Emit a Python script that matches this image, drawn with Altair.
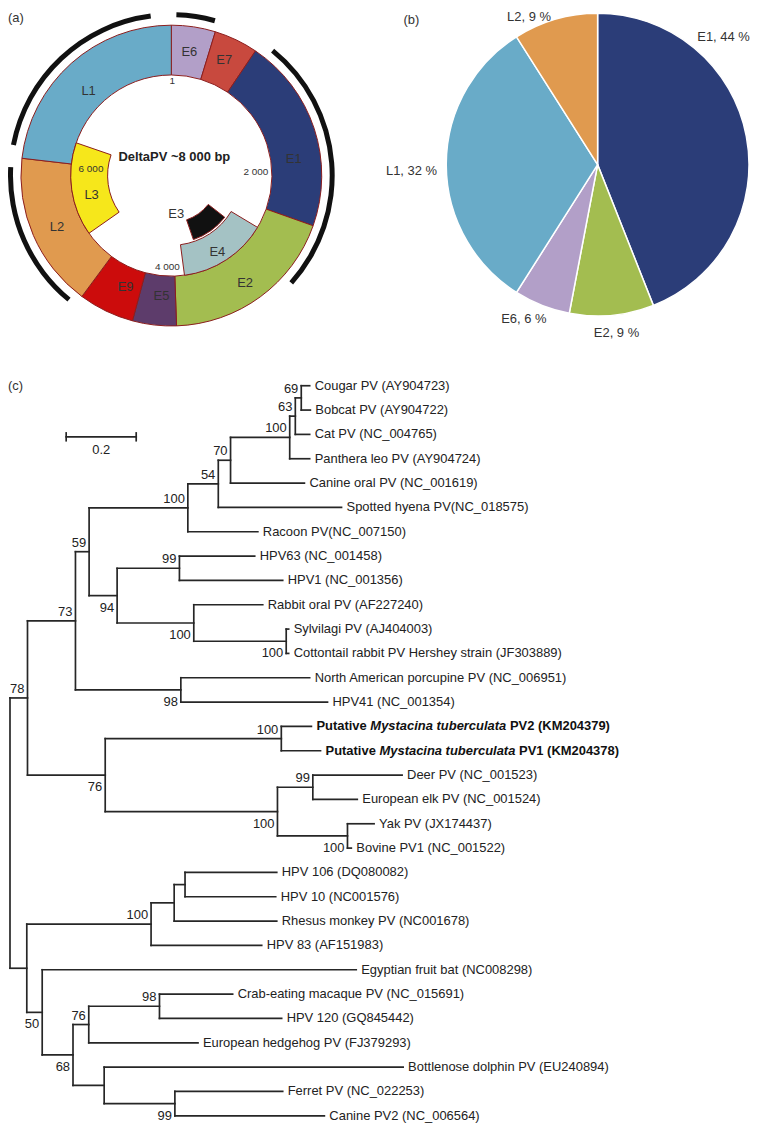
import math
import altair as alt
import pandas as pd

FONT = "Liberation Sans"
TXT = "#222222"

# ---------------- data: (a) genome map (positions in bp) ----------------
GENOME_LEN = 8000
RING_GENES = ["E6", "E7", "E1", "E2", "E5", "E9", "L2", "L1"]
RING_START = [0, 378, 756, 2433, 3956, 4333, 4811, 6147]
RING_END = [378, 756, 2433, 3956, 4333, 4811, 6147, 8000]
INNER_GENES = ["L3", "E4", "E3"]
INNER_START = [5222, 2689, 2844]
INNER_END = [6422, 3833, 3578]
ORF_START = [6244, 40, 867, 4878]
ORF_END = [7836, 349, 2929, 6067]
TICK_TEXT = ["1", "2 000", "4 000", "6 000"]
TITLE_A = "DeltaPV ~8 000 bp"

# ---------------- data: (b) pie ----------------
PIE_GENES = ["E1", "E2", "E6", "L1", "L2"]
PIE_PCT = [44, 9, 6, 32, 9]

# ---------------- data: (c) tree ----------------
LEAF_NAMES = [
    "Cougar PV (AY904723)", "Bobcat PV (AY904722)", "Cat PV (NC_004765)",
    "Panthera leo PV (AY904724)", "Canine oral PV (NC_001619)",
    "Spotted hyena PV(NC_018575)", "Racoon PV(NC_007150)", "HPV63 (NC_001458)",
    "HPV1 (NC_001356)", "Rabbit oral PV (AF227240)", "Sylvilagi PV (AJ404003)",
    "Cottontail rabbit PV Hershey strain (JF303889)",
    "North American porcupine PV (NC_006951)", "HPV41 (NC_001354)",
    "Putative Mystacina tuberculata PV2 (KM204379)",
    "Putative Mystacina tuberculata PV1 (KM204378)",
    "Deer PV (NC_001523)", "European elk PV (NC_001524)", "Yak PV (JX174437)",
    "Bovine PV1 (NC_001522)", "HPV 106 (DQ080082)", "HPV 10 (NC001576)",
    "Rhesus monkey PV (NC001678)", "HPV 83 (AF151983)",
    "Egyptian fruit bat (NC008298)", "Crab-eating macaque PV (NC_015691)",
    "HPV 120 (GQ845442)", "European hedgehog PV (FJ379293)",
    "Bottlenose dolphin PV (EU240894)", "Ferret PV (NC_022253)",
    "Canine PV2 (NC_006564)",
]
LEAF_DEPTH = [
    0.856, 0.858, 0.856, 0.856, 0.841, 0.947, 0.708, 0.699, 0.779, 0.722,
    0.796, 0.796, 0.856, 0.907, 0.861, 0.887, 1.120, 0.992, 1.040, 0.975,
    0.762, 0.759, 0.762, 0.719, 0.989, 0.636, 0.776, 0.537, 1.123, 0.779,
    0.898,
]
NODE_IDS = [
    "n69", "n63", "nFel", "n70", "n54", "nCarn", "n99a", "nSyl", "nRab", "n94",
    "n59", "n98a", "n73", "nPut", "n99b", "nBov", "nUng", "n76a", "n78",
    "nH1", "nH2", "nH100", "n98c", "n76b", "n99c", "nDol", "n68", "n50",
    "nHP", "root",
]
NODE_CHILDREN = [
    [0, 1], ["n69", 2], ["n63", 3], ["nFel", 4], ["n70", 5], ["n54", 6], [7, 8],
    [10, 11], [9, "nSyl"], ["n99a", "nRab"], ["nCarn", "n94"], [12, 13],
    ["n59", "n98a"], [14, 15], [16, 17], [18, 19], ["n99b", "nBov"],
    ["nPut", "nUng"], ["n73", "n76a"], [20, 21], ["nH1", 22], ["nH2", 23],
    [25, 26], ["n98c", 27], [29, 30], [28, "n99c"], ["n76b", "nDol"],
    [24, "n68"], ["nH100", "n50"], ["n78", "nHP"],
]
NODE_DEPTH = [
    0.832, 0.815, 0.799, 0.630, 0.595, 0.508, 0.484, 0.789, 0.525, 0.306,
    0.226, 0.488, 0.187, 0.775, 0.865, 0.964, 0.764, 0.272, 0.050,
    0.500, 0.469, 0.403, 0.427, 0.225, 0.471, 0.269, 0.180, 0.092,
    0.048, 0.0,
]
NODE_SUPPORT = [
    "69", "63", "100", "70", "54", "100", "99", "100", "100", "94",
    "59", "98", "73", "100", "99", "100", "100", "76", "78",
    "", "", "100", "98", "76", "99", "", "68", "50", "", "",
]
SCALE_BAR = 0.2

# ---------------- layout / style ----------------
COLORS = {
    "E6": "#b29fc8", "E7": "#c8493e", "E1": "#2b3d78", "E2": "#a3bd50",
    "E5": "#5d3c6b", "E9": "#cc0c0c", "L2": "#e09a4f", "L1": "#69abc8",
    "L3": "#f6e71b", "E4": "#a4c2c4", "E3": "#111111",
}
COLOR_SCALE = alt.Scale(domain=list(COLORS.keys()), range=list(COLORS.values()))
OUTLINE = "#8b1d1d"

WA, HA = 362, 370
WB, HB = 382, 370
WC, HC = 744, 747
CX, CY = 164, 166           # ring centre
PX, PY, PR = 230, 155, 152  # pie centre / radius

theta_scale = alt.Scale(domain=[0, GENOME_LEN], range=[0, 2 * math.pi])


def polar(cx, cy, deg, r):
    a = math.radians(deg)
    return cx + r * math.sin(a), cy - r * math.cos(a)


def arc_layer(genes, starts, ends, r_in, r_out, stroke=OUTLINE, fill=None):
    df = pd.DataFrame({"gene": genes, "start": starts, "end": ends})
    props = dict(innerRadius=r_in, outerRadius=r_out, stroke=stroke, strokeWidth=1)
    if fill is not None:
        props = dict(innerRadius=r_in, outerRadius=r_out, color=fill, strokeWidth=0)
    enc = dict(
        theta=alt.Theta("start:Q", scale=theta_scale, stack=False),
        theta2="end:Q",
        x=alt.value(CX), y=alt.value(CY),
    )
    if fill is None:
        enc["color"] = alt.Color("gene:N", scale=COLOR_SCALE, legend=None)
    return alt.Chart(df).mark_arc(**props).encode(**enc)


ring = arc_layer(RING_GENES, RING_START, RING_END, 101, 151)
inner_r = {"L3": (64, 101), "E4": (70, 101), "E3": (47, 68)}
inner_layers = []
for g, s, e in zip(INNER_GENES, INNER_START, INNER_END):
    ri, ro = inner_r[g]
    inner_layers.append(arc_layer([g], [s], [e], ri, ro))
orf = arc_layer(["orf"] * len(ORF_START), ORF_START, ORF_END, 159, 164, fill="#111111")

# ring labels (angle deg, radius) – layout
gene_lab_pos = {
    "E6": (8.3, 125), "E7": (24.6, 127.5), "E1": (82.1, 124), "E2": (145.6, 131),
    "E4": (149.1, 90), "E3": (172.7, 39), "E5": (184.7, 121), "E9": (202.3, 121),
    "L2": (245.7, 126), "L1": (315.7, 119), "L3": (256, 82.5),
}
lab_rows = []
for g, (d, r) in gene_lab_pos.items():
    x, y = polar(CX, CY, d, r)
    lab_rows.append({"t": g, "x": x, "y": y})
gene_text = alt.Chart(pd.DataFrame(lab_rows)).mark_text(
    font=FONT, fontSize=13, color="#333333", align="center", baseline="middle"
).encode(x=alt.X("x:Q", scale=None, axis=None), y=alt.Y("y:Q", scale=None, axis=None), text="t:N")

tick_pos = [(0.6, 95), (87.3, 85), (182.5, 92), (275, 81)]
tick_rows = []
for t, (d, r) in zip(TICK_TEXT, tick_pos):
    x, y = polar(CX, CY, d, r)
    tick_rows.append({"t": t, "x": x, "y": y})
tick_text = alt.Chart(pd.DataFrame(tick_rows)).mark_text(
    font=FONT, fontSize=10, color="#333333", align="center", baseline="middle"
).encode(x=alt.X("x:Q", scale=None, axis=None), y=alt.Y("y:Q", scale=None, axis=None), text="t:N")

title_a = alt.Chart(pd.DataFrame({"t": [TITLE_A], "x": [CX + 3], "y": [CY - 19]})).mark_text(
    font=FONT, fontSize=13, fontWeight="bold", color="#222222", align="center", baseline="middle"
).encode(x=alt.X("x:Q", scale=None, axis=None), y=alt.Y("y:Q", scale=None, axis=None), text="t:N")

tag_a = alt.Chart(pd.DataFrame({"t": ["(a)"]})).mark_text(
    font=FONT, fontSize=13, color="#333333", align="left", baseline="middle"
).encode(x=alt.value(0), y=alt.value(8), text="t:N")

panel_a = alt.layer(ring, *inner_layers, orf, gene_text, tick_text, title_a, tag_a).properties(
    width=WA, height=HA
)

# ---------------- panel (b) ----------------
pie_df = pd.DataFrame({"gene": PIE_GENES, "pct": PIE_PCT, "idx": list(range(len(PIE_GENES)))})
pie = alt.Chart(pie_df).mark_arc(outerRadius=PR, stroke="white", strokeWidth=1.5).encode(
    theta=alt.Theta("pct:Q", stack=True),
    order=alt.Order("idx:Q"),
    color=alt.Color("gene:N", scale=COLOR_SCALE, legend=None),
    x=alt.value(PX), y=alt.value(PY),
)
# label anchors (angle deg, radius) – layout
pie_lab_pos = {"E1": (44.6, 180), "E2": (173.6, 170), "E6": (205.5, 172),
               "L1": (268, 187), "L2": (335.0, 163)}
prow = []
for g, p in zip(PIE_GENES, PIE_PCT):
    d, r = pie_lab_pos[g]
    x, y = polar(PX, PY, d, r)
    prow.append({"t": f"{g}, {p} %", "x": x, "y": max(y, 7.0)})
pie_text = alt.Chart(pd.DataFrame(prow)).mark_text(
    font=FONT, fontSize=13, color="#333333", align="center", baseline="middle"
).encode(x=alt.X("x:Q", scale=None, axis=None), y=alt.Y("y:Q", scale=None, axis=None), text="t:N")
tag_b = alt.Chart(pd.DataFrame({"t": ["(b)"]})).mark_text(
    font=FONT, fontSize=13, color="#333333", align="left", baseline="middle"
).encode(x=alt.value(35), y=alt.value(10), text="t:N")

panel_b = alt.layer(pie, pie_text, tag_b).properties(width=WB, height=HB)

# ---------------- panel (c) ----------------
PX_PER_UNIT = 351.5
ROOT_PX = 2.0
n_leaf = len(LEAF_NAMES)
xs = alt.Scale(domain=[0, 1], range=[ROOT_PX, ROOT_PX + PX_PER_UNIT], nice=False, zero=False)
ys = alt.Scale(domain=[0, n_leaf - 1], range=[7, 740], nice=False, zero=False)

pos = {i: (LEAF_DEPTH[i], float(i)) for i in range(n_leaf)}
segs = []
above_rows, below_rows = [], []
below_ids = {"nSyl", "nRab", "n94", "n98a", "nBov", "nUng", "n76a", "n99c", "n68", "n50"}
for nid, ch, dep, sup in zip(NODE_IDS, NODE_CHILDREN, NODE_DEPTH, NODE_SUPPORT):
    cy = [pos[c][1] for c in ch]
    ny = (min(cy) + max(cy)) / 2
    pos[nid] = (dep, ny)
    segs.append({"x": dep, "x2": dep, "y": min(cy), "y2": max(cy)})
    for c in ch:
        segs.append({"x": dep, "x2": pos[c][0], "y": pos[c][1], "y2": pos[c][1]})
    if sup:
        (below_rows if nid in below_ids else above_rows).append({"x": dep, "y": ny, "t": sup})

bar_y = 2.1
bar_x0 = 0.1605
tick_h = 0.16
segs.append({"x": bar_x0, "x2": bar_x0 + SCALE_BAR, "y": bar_y, "y2": bar_y})
segs.append({"x": bar_x0, "x2": bar_x0, "y": bar_y - tick_h, "y2": bar_y + tick_h})
segs.append({"x": bar_x0 + SCALE_BAR, "x2": bar_x0 + SCALE_BAR, "y": bar_y - tick_h, "y2": bar_y + tick_h})

XE = alt.X("x:Q", scale=xs, axis=None)
YE = alt.Y("y:Q", scale=ys, axis=None)

edges = alt.Chart(pd.DataFrame(segs)).mark_rule(
    color="#262626", strokeWidth=1.7, strokeCap="square"
).encode(x=XE, x2="x2:Q", y=YE, y2="y2:Q")

plain, bold_rows, ital_rows = [], [], []
BOLD_W = {" ": 278, "P": 667, "u": 611, "t": 333, "a": 556, "i": 278, "v": 556, "e": 556,
          "M": 833, "y": 556, "s": 556, "c": 556, "n": 611, "b": 611, "r": 389, "l": 278,
          "V": 667, "(": 333, ")": 333, "K": 722}


def bw(s, size=13):
    return sum(BOLD_W.get(ch, 556) for ch in s) * size / 1000.0


for i, name in enumerate(LEAF_NAMES):
    d = LEAF_DEPTH[i]
    if name.startswith("Putative Mystacina tuberculata"):
        rest = name[len("Putative Mystacina tuberculata "):]
        o1 = bw("Putative ")
        o2 = bw("Putative Mystacina tuberculata ")
        bold_rows.append({"x": d + 5 / PX_PER_UNIT, "y": i, "t": "Putative"})
        ital_rows.append({"x": d + (5 + o1) / PX_PER_UNIT, "y": i, "t": "Mystacina tuberculata"})
        bold_rows.append({"x": d + (5 + o2) / PX_PER_UNIT, "y": i, "t": rest})
    else:
        plain.append({"x": d + 5 / PX_PER_UNIT, "y": i, "t": name})

leaf_text = alt.Chart(pd.DataFrame(plain)).mark_text(
    font=FONT, fontSize=13, color=TXT, align="left", baseline="middle"
).encode(x=XE, y=YE, text="t:N")
bold_text = alt.Chart(pd.DataFrame(bold_rows)).mark_text(
    font=FONT, fontSize=13, fontWeight="bold", color="#111111", align="left", baseline="middle"
).encode(x=XE, y=YE, text="t:N")
ital_text = alt.Chart(pd.DataFrame(ital_rows)).mark_text(
    font=FONT, fontSize=13, fontWeight="bold", fontStyle="italic", color="#111111",
    align="left", baseline="middle"
).encode(x=XE, y=YE, text="t:N")
sup_above = alt.Chart(pd.DataFrame(above_rows)).mark_text(
    font=FONT, fontSize=13, color=TXT, align="right", baseline="alphabetic", dx=-3, dy=-5
).encode(x=XE, y=YE, text="t:N")
sup_below = alt.Chart(pd.DataFrame(below_rows)).mark_text(
    font=FONT, fontSize=13, color=TXT, align="right", baseline="alphabetic", dx=-3, dy=16
).encode(x=XE, y=YE, text="t:N")
bar_text = alt.Chart(pd.DataFrame({"x": [bar_x0 + SCALE_BAR / 2], "y": [bar_y], "t": [str(SCALE_BAR)]})).mark_text(
    font=FONT, fontSize=13, color=TXT, align="center", baseline="middle", dy=13
).encode(x=XE, y=YE, text="t:N")
tag_c = alt.Chart(pd.DataFrame({"t": ["(c)"]})).mark_text(
    font=FONT, fontSize=13, color="#333333", align="left", baseline="middle"
).encode(x=alt.value(0), y=alt.value(7), text="t:N")

panel_c = alt.layer(edges, leaf_text, bold_text, ital_text, sup_above, sup_below, bar_text, tag_c).properties(
    width=WC, height=HC
)

top = alt.hconcat(panel_a, panel_b, spacing=0, bounds="flush").resolve_scale(
    theta="independent", color="shared"
)
chart = alt.vconcat(top, panel_c, spacing=0).resolve_scale(
    theta="independent", color="shared"
).properties(padding=0).configure(font=FONT).configure_view(stroke=None)

chart.save("out.html", embed_options={"renderer": "svg", "actions": False})
